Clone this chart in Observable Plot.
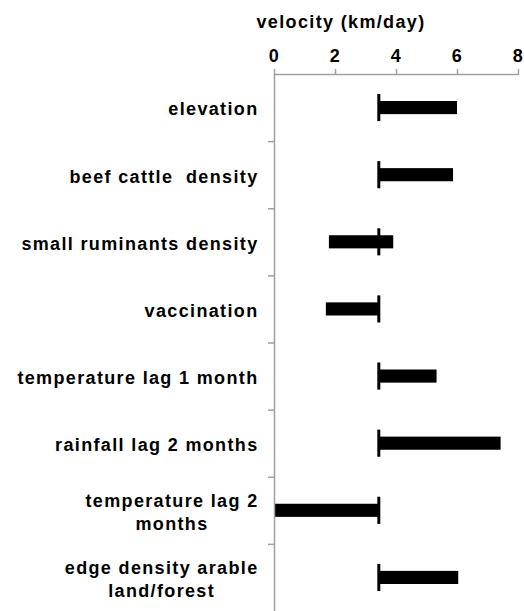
<!DOCTYPE html>
<html>
<head>
<meta charset="utf-8">
<script src="https://cdn.jsdelivr.net/npm/d3@7"></script>
<script src="https://cdn.jsdelivr.net/npm/@observablehq/plot@0.6"></script>
<style>
  body { margin: 0; background: #fff; }
  svg { display: block; }
</style>
</head>
<body>
<div id="chart"></div>
<script>
const categories = [
  "elevation",
  "beef cattle  density",
  "small ruminants density",
  "vaccination",
  "temperature lag 1 month",
  "rainfall lag 2 months",
  "temperature lag 2\nmonths",
  "edge density arable\nland/forest"
];
const lowValues  = [3.42, 3.42, 1.80, 1.70, 3.42, 3.42, 0.00, 3.42];
const highValues = [6.00, 5.87, 3.91, 3.42, 5.33, 7.43, 3.42, 6.04];
const baseline = 3.42;
const xTicks = [0, 2, 4, 6, 8];
const title = "velocity (km/day)";

const rows = categories.map((c, i) => ({cat: c, i, low: lowValues[i], high: highValues[i], base: baseline}));
const idx = categories.map((_, i) => i);
const axisGray = "#a0a0a0";
const font = "Liberation Sans, Arial, sans-serif";

const chart = Plot.plot({
  width: 524,
  height: 611,
  marginTop: 74,
  marginBottom: 0,
  marginLeft: 274,
  marginRight: 6,
  style: {fontFamily: font, fontWeight: "bold", fontSize: "18px", color: "#000", background: "#fff", letterSpacing: "1.35px"},
  x: {domain: [0, 8]},
  y: {domain: [0, categories.length], reverse: true},
  marks: [
    Plot.rectX(rows, {x1: "low", x2: "high", y1: d => d.i, y2: d => d.i + 1, insetTop: 27, insetBottom: 27, fill: "#000"}),
    Plot.ruleX(rows, {x: "base", y1: d => d.i, y2: d => d.i + 1, insetTop: 20, insetBottom: 20, stroke: "#000", strokeWidth: 3}),
    Plot.ruleX([0], {stroke: axisGray, strokeWidth: 1.5}),
    Plot.ruleY([0], {stroke: axisGray, strokeWidth: 1.5}),
    Plot.axisX({anchor: "top", ticks: xTicks, tickSize: 6, tickPadding: 7, stroke: axisGray, strokeWidth: 1.5, fill: "#000", label: null, fontSize: 18, fontWeight: "bold"}),
    Plot.axisY({anchor: "left", ticks: idx.slice(1), tickSize: 6, tickFormat: () => "", stroke: axisGray, strokeWidth: 1.5, label: null}),
    Plot.axisY({anchor: "left", ticks: idx.map(i => i + 0.5), tickSize: 0, tickPadding: 16, tickFormat: v => categories[Math.floor(v)], fill: "#000", label: null, fontSize: 18, fontWeight: "bold", lineHeight: 1.28}),
    Plot.text([title], {frameAnchor: "top-left", dx: -18, dy: -52, text: d => d, textAnchor: "start", lineAnchor: "middle", fontSize: 18, fontWeight: "bold", fill: "#000"})
  ]
});
document.getElementById("chart").appendChild(chart);

// center each line of a multi-line category label within its right-aligned block
const multi = new Set(categories.filter(c => c.includes("\n")).map(c => c.replace(/\n/g, "")));
chart.querySelectorAll("text").forEach(t => {
  const tspans = t.querySelectorAll("tspan");
  if (tspans.length < 2) return;
  if (!multi.has(t.textContent)) return;
  const w = t.getBBox().width;
  t.setAttribute("text-anchor", "middle");
  t.style.textAnchor = "middle";
  const tr = t.getAttribute("transform") || "";
  t.setAttribute("transform", tr + ` translate(${-w / 2},0)`);
});
</script>
</body>
</html>
